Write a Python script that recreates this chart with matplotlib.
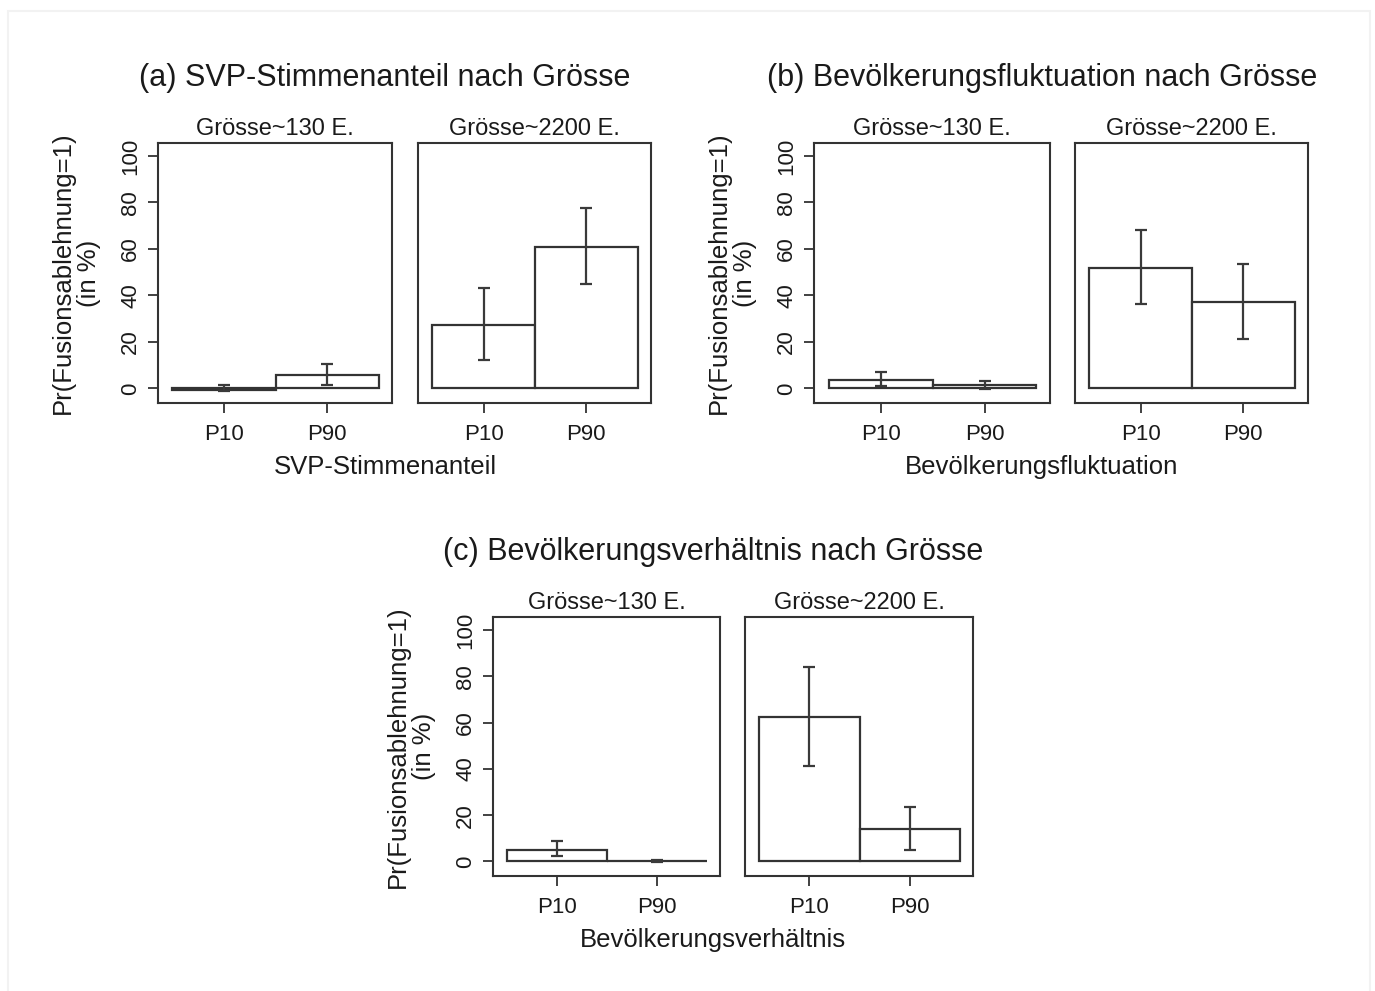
import numpy as np
import matplotlib.pyplot as plt
from matplotlib.patches import Rectangle

plt.rcParams['font.family'] = ['Liberation Sans', 'DejaVu Sans']

categories = ["P10", "P90"]
groups = ["Grösse~130 E.", "Grösse~2200 E."]

# (a) SVP-Stimmenanteil: estimates and CI bounds per size group
svp_small = [-0.6, 5.6]
svp_small_lo = [-1.2, 1.3]
svp_small_hi = [1.6, 10.7]
svp_large = [27.3, 61.0]
svp_large_lo = [12.0, 45.1]
svp_large_hi = [43.2, 77.6]

# (b) Bevoelkerungsfluktuation
fluk_small = [3.6, 1.3]
fluk_small_lo = [0.9, -0.3]
fluk_small_hi = [6.9, 3.0]
fluk_large = [51.8, 37.2]
fluk_large_lo = [36.4, 21.2]
fluk_large_hi = [68.0, 53.5]

# (c) Bevoelkerungsverhaeltnis
verh_small = [5.0, 0.2]
verh_small_lo = [2.3, -0.3]
verh_small_hi = [8.7, 0.7]
verh_large = [62.3, 14.0]
verh_large_lo = [41.1, 5.0]
verh_large_hi = [83.8, 23.4]

W, H = 1375, 991
fig = plt.figure(figsize=(W / 100, H / 100), dpi=100)
ink = '#1a1a1a'
edge = '#333333'

# faint page border
fig.patches.append(Rectangle((8 / W, -0.01), (1370 - 8) / W, 1 - 11 / H + 0.01,
                             transform=fig.transFigure, fill=False,
                             edgecolor='#f2f2f2', linewidth=1.5))


def px_axes(x0, x1, y0, y1):
    return fig.add_axes([x0 / W, 1 - y1 / H, (x1 - x0) / W, (y1 - y0) / H])


def draw(ax, vals, lo, hi, title, first):
    x = np.arange(len(categories))
    ax.bar(x, vals, width=1.0, color='white', edgecolor=edge, linewidth=1.6, zorder=2)
    err = [np.array(vals) - np.array(lo), np.array(hi) - np.array(vals)]
    ax.errorbar(x, vals, yerr=err, fmt='none', ecolor='#3a3a3a', elinewidth=1.6,
                capsize=4.5, capthick=1.6, zorder=3)
    ax.set_xlim(-0.64, 1.63)
    ax.set_ylim(-6.3, 105.6)
    ax.set_xticks(x)
    ax.set_xticklabels(categories, fontsize=16, color=ink)
    ax.tick_params(axis='x', length=7, width=1.3, color=edge, pad=8)
    if first:
        ax.set_yticks([0, 20, 40, 60, 80, 100])
        ax.set_yticklabels(['0', '20', '40', '60', '80', '100'], rotation=90,
                           va='center', fontsize=16, color=ink)
        ax.tick_params(axis='y', length=7, width=1.3, color=edge, pad=5)
        ax.set_ylabel('Pr(Fusionsablehnung=1)\n(in %)', fontsize=18.5, color=ink,
                      linespacing=1.08, labelpad=14)
    else:
        ax.set_yticks([])
    for s in ax.spines.values():
        s.set_linewidth(1.5)
        s.set_color(edge)
    ax.set_title(title, fontsize=17, color=ink, pad=6)


panels = [
    ((158, 392, 418, 651), (143, 403), (svp_small, svp_small_lo, svp_small_hi),
     (svp_large, svp_large_lo, svp_large_hi),
     '(a) SVP-Stimmenanteil nach Grösse', 'SVP-Stimmenanteil', 385, 78, 467),
    ((814, 1050, 1075, 1308), (143, 403), (fluk_small, fluk_small_lo, fluk_small_hi),
     (fluk_large, fluk_large_lo, fluk_large_hi),
     '(b) Bevölkerungsfluktuation nach Grösse', 'Bevölkerungsfluktuation', 1042, 78, 467),
    ((493, 720, 745, 973), (617, 876), (verh_small, verh_small_lo, verh_small_hi),
     (verh_large, verh_large_lo, verh_large_hi),
     '(c) Bevölkerungsverhältnis nach Grösse', 'Bevölkerungsverhältnis', 713, 552, 940),
]

for xs, ys, small, large, title, xlabel, cx, ty, ly in panels:
    a1 = px_axes(xs[0], xs[1], ys[0], ys[1])
    a2 = px_axes(xs[2], xs[3], ys[0], ys[1])
    draw(a1, *small, groups[0], True)
    draw(a2, *large, groups[1], False)
    fig.text(cx / W, 1 - ty / H, title, ha='center', va='center', fontsize=22, color=ink)
    fig.text(cx / W, 1 - ly / H, xlabel, ha='center', va='center', fontsize=18.5, color=ink)

fig.savefig('out.png', dpi=100, facecolor='white')
